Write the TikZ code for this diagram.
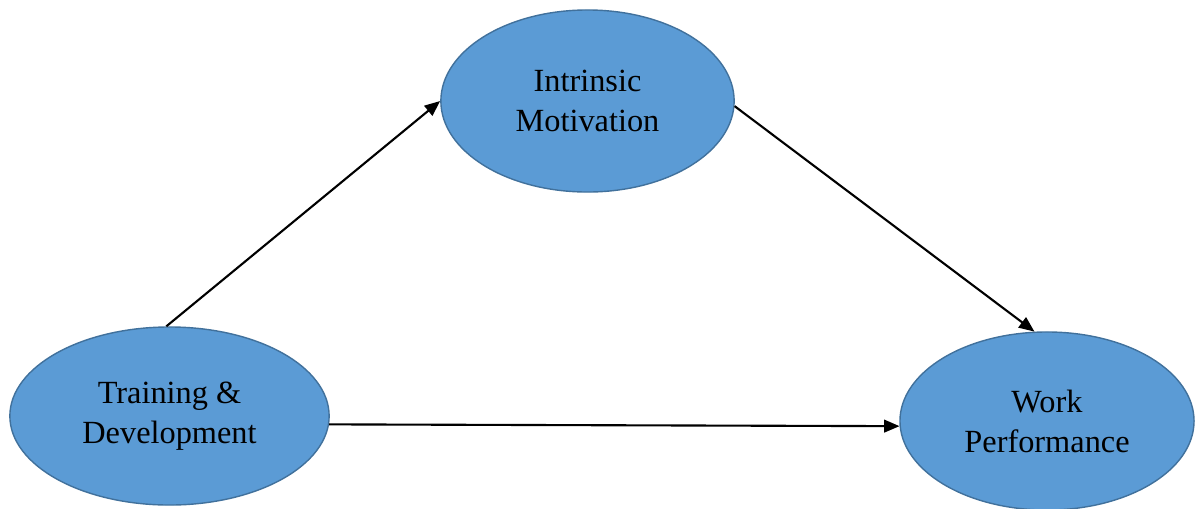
\documentclass[tikz,border=0pt]{standalone}
\usepackage{fontspec}
\setmainfont{Liberation Serif}
\usepackage{xcolor}
\usepackage{tikz}
\usetikzlibrary{shapes.geometric,arrows.meta,positioning,calc}
\definecolor{ovalfill}{HTML}{5B9BD5}
\definecolor{ovaldraw}{HTML}{41719C}

\begin{document}
\begin{tikzpicture}[
    x=0.025cm, y=-0.025cm,
    oval/.style={ellipse, draw=ovaldraw, fill=ovalfill, line width=1pt, inner sep=0pt, align=center, font=\fontsize{23}{28.4}\selectfont},
    line/.style={draw, -{Triangle[length=11pt,width=9pt]}, line width=1.5pt}
]
\useasboundingbox (0,0) rectangle (1200,508);

% Nodes
\node[oval, minimum width=7.33cm, minimum height=4.55cm] (im) at (587.5,101) {Intrinsic\\Motivation};
\node[oval, minimum width=7.98cm, minimum height=4.45cm] (td) at (169.5,416) {Training \&\\Development};
\node[oval, minimum width=7.35cm, minimum height=4.45cm] (wp) at (1047,421) {Work\\Performance};

% Connections
\path[line] (td.92) -- (im.west);
\path[line] (im.-2) -- (wp.98);
\path[line] (td.-3) -- (wp.182.5);

\end{tikzpicture}
\end{document}
